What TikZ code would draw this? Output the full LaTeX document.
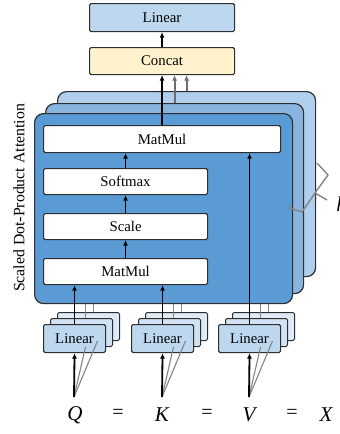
\documentclass[tikz,border=0pt]{standalone}
\usepackage{fontspec}
\setmainfont{Liberation Serif}
\usetikzlibrary{arrows.meta}
\definecolor{layerA}{HTML}{5B9BD5}
\definecolor{layerB}{HTML}{8AB4E0}
\definecolor{layerC}{HTML}{B0CFEC}
\definecolor{linfill}{HTML}{BDD7EE}
\definecolor{copyA}{HTML}{D0E2F3}
\definecolor{copyB}{HTML}{DEEBF7}
\definecolor{catfill}{HTML}{FFF2CC}
\definecolor{edge}{HTML}{2E2E2E}
\definecolor{gline}{HTML}{6E6E6E}
\tikzset{
  layer/.style={draw=edge, line width=1.2pt, rounded corners=9pt, anchor=north west},
  opbox/.style={draw=edge, line width=1.1pt, rounded corners=1.5pt, fill=white, anchor=north west, inner sep=0pt, font=\fontsize{14.8}{16}\selectfont},
  linbox/.style={draw=edge, line width=1.1pt, rounded corners=1.5pt, fill=linfill, anchor=north west, inner sep=0pt, font=\fontsize{14.8}{16}\selectfont},
  copybox/.style={draw=edge, line width=1pt, rounded corners=1.5pt, anchor=north west, inner sep=0pt},
  blk/.style={draw=black, line width=1.8pt, -{Latex[length=5.5pt,width=5pt]}},
  gar/.style={draw=gline, line width=1.8pt, -{Latex[length=5.5pt,width=5pt]}},
  gln/.style={draw=gline!85, line width=1.1pt},
  letter/.style={font=\fontsize{21}{23}\selectfont\itshape, inner sep=0pt},
  eqs/.style={font=\fontsize{20}{22}\selectfont, inner sep=0pt}
}
\begin{document}
\begin{tikzpicture}[x=1pt,y=-1pt]
\useasboundingbox (0,0) rectangle (340,434);
% top boxes
\node[linbox, minimum width=145pt, minimum height=28pt] (lin) at (89,3) {Linear};
\node[linbox, fill=catfill, minimum width=145pt, minimum height=27pt] (cat) at (89,47) {Concat};
\draw[blk] (cat.north) -- (lin.south);
% layers
\node[layer, fill=layerC, minimum width=258pt, minimum height=185pt] (L3) at (57,91) {};
\node[layer, fill=layerB, minimum width=258pt, minimum height=190pt] (L2) at (45,103) {};
\draw[gar] (L3.north) -- (L3.north |- cat.south);
\draw[gar] (L2.north) -- (L2.north |- cat.south);
% copies of Linear (drawn before front layer)
\foreach \nm/\x in {Q/43,K/131,V/218}{
  \node[copybox, fill=copyB, minimum width=62pt, minimum height=28pt] (\nm2) at (\x+14,312) {};
  \node[copybox, fill=copyA, minimum width=62pt, minimum height=28pt] (\nm1) at (\x+7,318) {};
}
\node[layer, fill=layerA, minimum width=258pt, minimum height=190pt] (L1) at (34,113) {};
\foreach \nm in {Q,K,V}{
  \draw[gln] ([xshift=4pt]\nm1.north) -- ([xshift=4pt]\nm1.north |- L1.south);
  \draw[gln] ([xshift=5pt]\nm2.north) -- ([xshift=5pt]\nm2.north |- L1.south);
}
\node[linbox, minimum width=62pt, minimum height=28pt] (LQ) at (43,324) {Linear};
\node[linbox, minimum width=62pt, minimum height=28pt] (LK) at (131,324) {Linear};
\node[linbox, minimum width=62pt, minimum height=28pt] (LV) at (218,324) {Linear};
% inner boxes
\node[opbox, minimum width=237pt, minimum height=27pt] (mm2) at (43,125) {MatMul};
\node[opbox, minimum width=164pt, minimum height=26pt] (soft) at (43,168) {Softmax};
\node[opbox, minimum width=164pt, minimum height=26pt] (scale) at (43,213) {Scale};
\node[opbox, minimum width=164pt, minimum height=26pt] (mm1) at (43,258) {MatMul};
\draw[blk] (mm1.north) -- (scale.south);
\draw[blk] (scale.north) -- (soft.south);
\draw[blk] (soft.north) -- (soft.north |- mm2.south);
\draw[blk] (mm2.north) -- (cat.south);
\draw[blk] (LQ.north) -- (LQ.north |- mm1.south);
\draw[blk] (LK.north) -- (LK.north |- mm1.south);
\draw[blk] (LV.north) -- (LV.north |- mm2.south);
% bottom letters
\node[letter] (q) at (75,415) {Q};
\node[eqs] (e1) at (118,414) {=};
\node[letter] (k) at (162,415) {K};
\node[eqs] (e2) at (207,414) {=};
\node[letter] (v) at (249,415) {V};
\node[eqs] (e3) at (292,414) {=};
\node[letter] (x) at (326,415) {X};
\foreach \nm/\cx in {Q/74,K/162,V/249}{
  \coordinate (a\nm) at (\cx,397);
  \draw[gln] (a\nm) -- ([xshift=4pt]\nm1.south);
  \draw[gln] (a\nm) -- ([xshift=9pt]\nm2.south);
  \draw[blk] (a\nm) -- (L\nm.south);
}
% rotated label
\node[rotate=90, font=\fontsize{15.8}{18}\selectfont, inner sep=0pt] (lbl) at (19,198) {Scaled Dot-Product Attention};
% brace and h
\draw[gln, line width=1.4pt, line join=round] (317,163) -- (328,175) -- (315,193) -- (302,212) -- (287,207);
\draw[gln, line width=1.4pt] (315,193) -- (327,200);
\node[letter] (h) at (341.5,204) {h};
\end{tikzpicture}
\end{document}
